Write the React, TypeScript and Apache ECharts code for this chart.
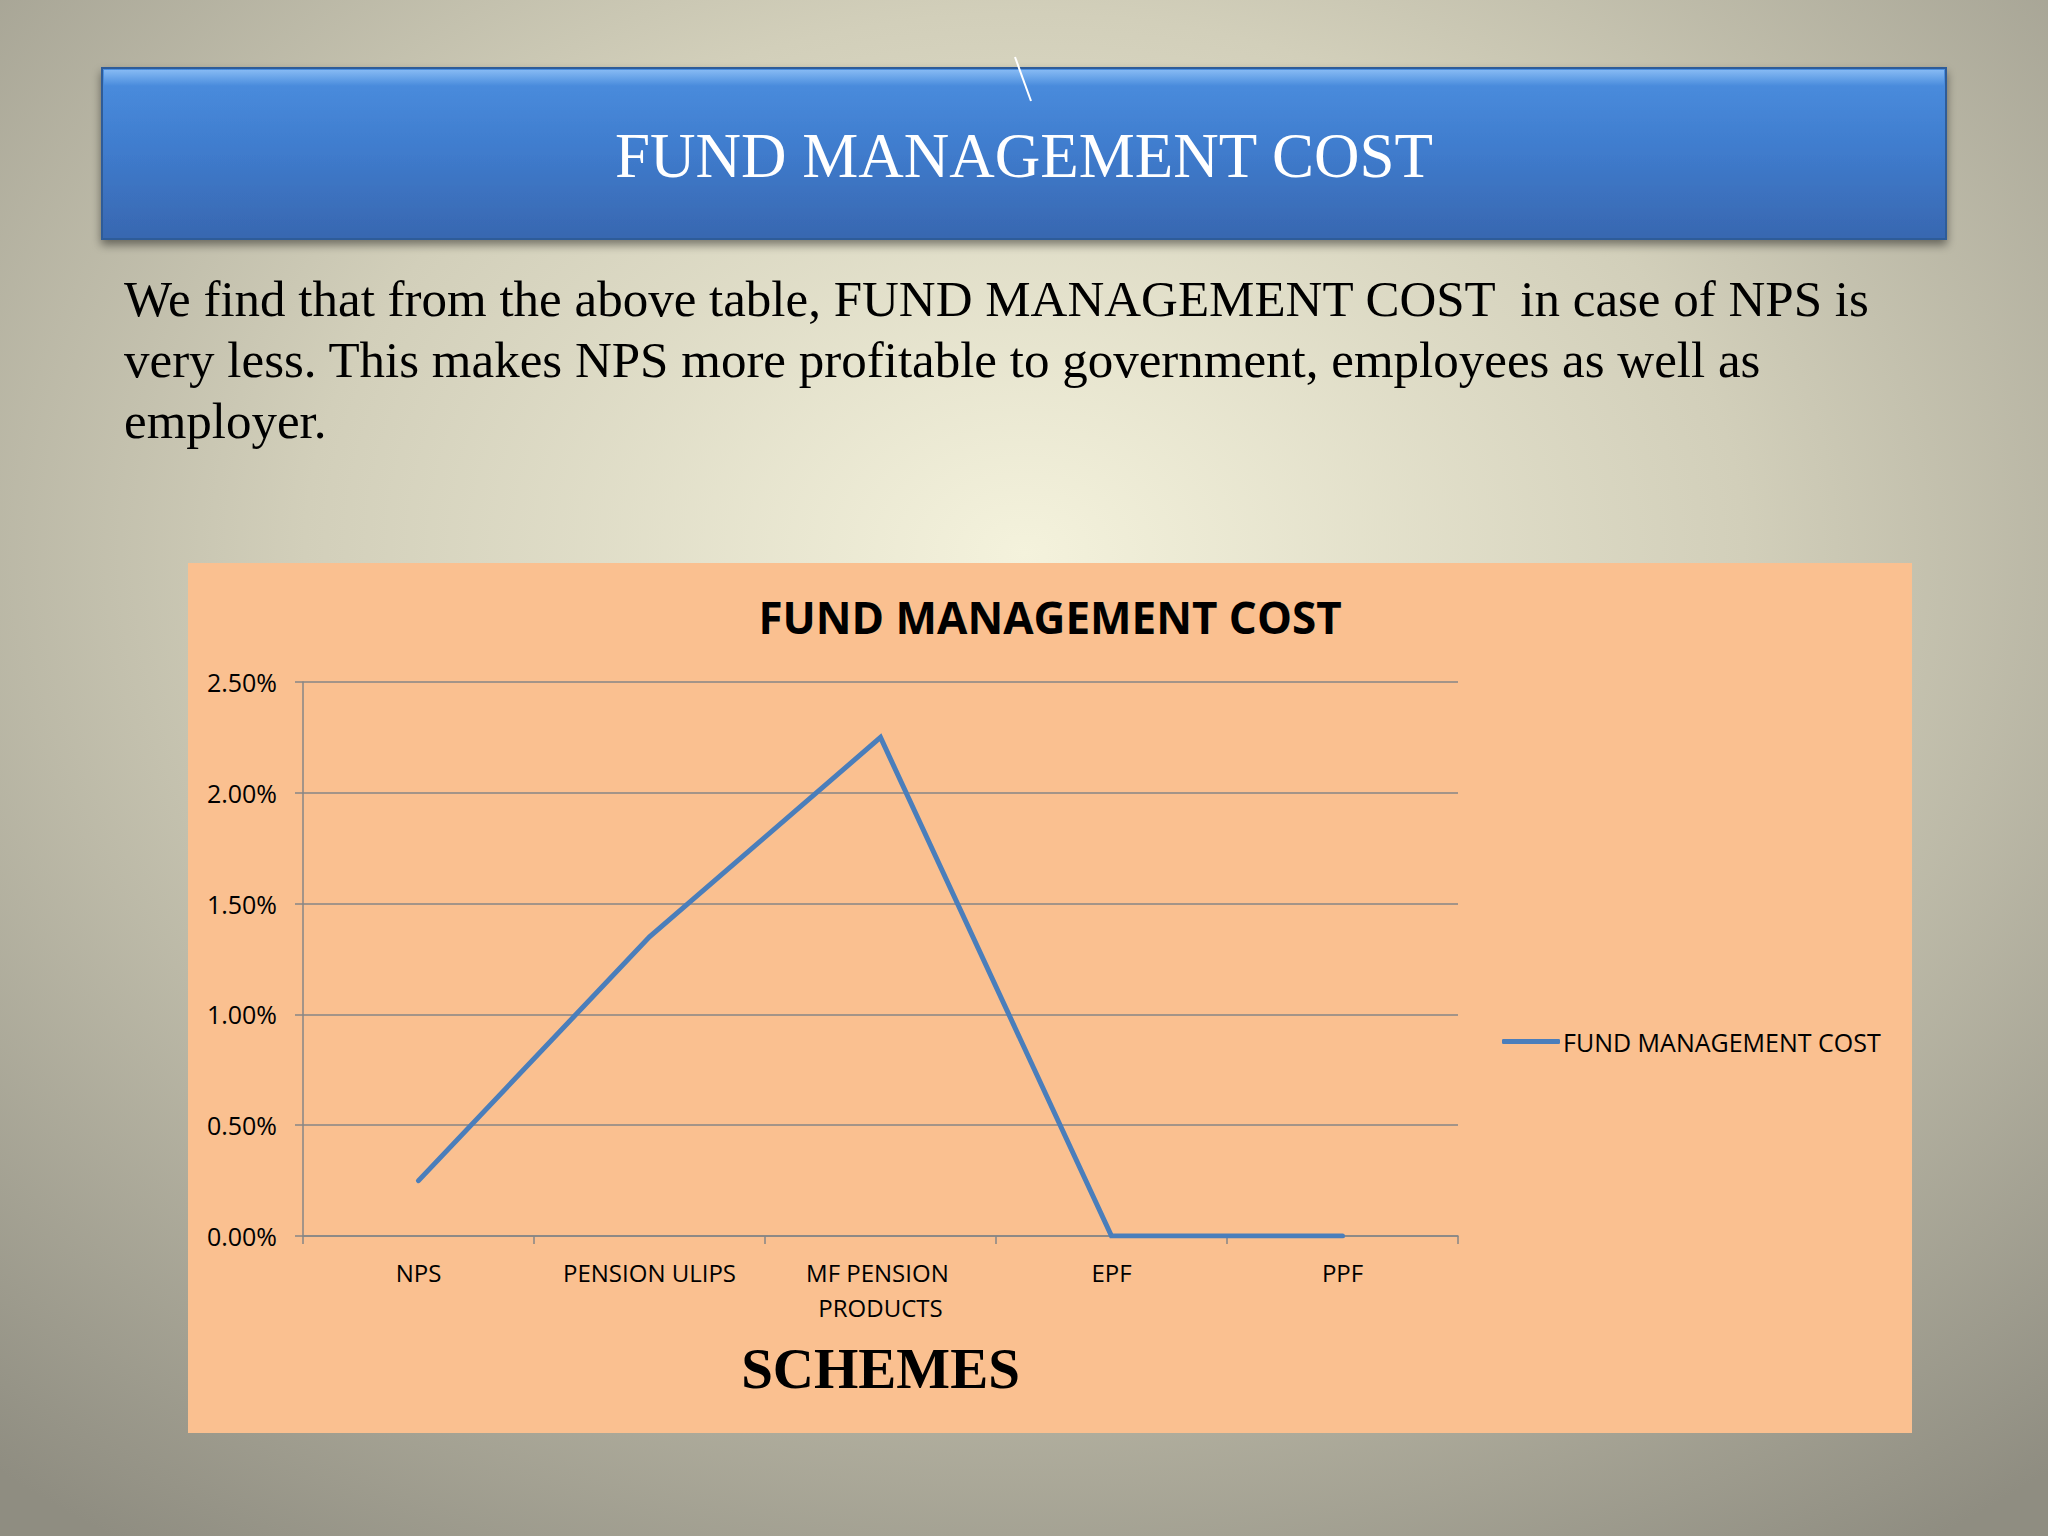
import React, { useEffect, useRef } from "react";
import * as echarts from "echarts";

const slideTitle = "FUND MANAGEMENT COST";
const bodyLines = [
  "We find that from the above table, FUND MANAGEMENT COST  in case of NPS is",
  "very less. This makes NPS more profitable to government, employees as well as",
  "employer.",
];
const chartTitle = "FUND MANAGEMENT COST";
const seriesName = "FUND MANAGEMENT COST";
const categories = ["NPS", "PENSION ULIPS", "MF PENSION PRODUCTS", "EPF", "PPF"];
const costPercent = [0.25, 1.35, 2.25, 0, 0];
const xAxisName = "SCHEMES";
const yMin = 0;
const yMax = 2.5;
const yStep = 0.5;

const SANS = "'Open Sans', 'Noto Sans', sans-serif";
const SERIF = "'Liberation Serif', 'DejaVu Serif', serif";
const GRID_COLOR = "#868686";
const LINE_COLOR = "#4a7ebb";

export default function App() {
  const ref = useRef<HTMLDivElement>(null);

  useEffect(() => {
    if (!ref.current) return;
    const chart = echarts.init(ref.current, undefined, { renderer: "svg" });
    const option: any = {
      animation: false,
      backgroundColor: "transparent",
      graphic: [
        {
          type: "rect",
          z: -20,
          silent: true,
          shape: { x: 0, y: 0, width: 2048, height: 1536 },
          style: {
            fill: new echarts.graphic.RadialGradient(0.5, 0.36, 0.78, [
              { offset: 0, color: "#f4f2dc" },
              { offset: 0.45, color: "#d2cfba" },
              { offset: 1, color: "#8f8d81" },
            ]),
          },
        },
        {
          type: "rect",
          z: -15,
          silent: true,
          shape: { x: 102, y: 68, width: 1844, height: 171 },
          style: {
            fill: new echarts.graphic.LinearGradient(0, 0, 0, 1, [
              { offset: 0, color: "#4b8fe0" },
              { offset: 0.5, color: "#3f7bcc" },
              { offset: 1, color: "#3867b0" },
            ]),
            stroke: "#2f5c99",
            lineWidth: 2,
            shadowBlur: 10,
            shadowOffsetY: 5,
            shadowColor: "rgba(0,0,0,0.45)",
          },
        },
        {
          type: "rect",
          z: -14,
          silent: true,
          shape: { x: 104, y: 70, width: 1840, height: 16 },
          style: {
            fill: new echarts.graphic.LinearGradient(0, 0, 0, 1, [
              { offset: 0, color: "rgba(140,190,245,0.9)" },
              { offset: 1, color: "rgba(140,190,245,0)" },
            ]),
          },
        },
        {
          type: "line",
          z: -13,
          silent: true,
          shape: { x1: 1015, y1: 57, x2: 1031, y2: 101 },
          style: { stroke: "#ffffff", lineWidth: 2 },
        },
        {
          type: "text",
          z: -12,
          x: 1024,
          y: 156,
          style: {
            text: slideTitle,
            fill: "#ffffff",
            font: `63px ${SERIF}`,
            textAlign: "center",
            textVerticalAlign: "middle",
          },
        },
        {
          type: "text",
          z: -12,
          x: 124,
          y: 268,
          style: {
            text: bodyLines.join("\n"),
            fill: "#000000",
            font: `51px ${SERIF}`,
            lineHeight: 61,
            textAlign: "left",
            textVerticalAlign: "top",
          },
        },
        {
          type: "rect",
          z: -10,
          silent: true,
          shape: { x: 188, y: 563, width: 1724, height: 870 },
          style: { fill: "#fac090" },
        },
        {
          type: "text",
          z: 5,
          x: 1050,
          y: 617,
          style: {
            text: chartTitle,
            fill: "#000000",
            font: `bold 44px ${SANS}`,
            textAlign: "center",
            textVerticalAlign: "middle",
          },
        },
      ],
      legend: {
        left: 1502,
        top: 1029,
        padding: 0,
        itemWidth: 58,
        itemHeight: 5,
        itemGap: 5,
        data: [{ name: seriesName, icon: "roundRect" }],
        itemStyle: { color: LINE_COLOR },
        textStyle: { fontFamily: SANS, fontSize: 25, color: "#000000", padding: [0, 0, 0, -2] },
      },
      grid: { left: 303, top: 682, right: 2048 - 1458, bottom: 1536 - 1236, containLabel: false },
      xAxis: {
        type: "category",
        data: categories,
        boundaryGap: true,
        axisLine: { show: true, lineStyle: { color: GRID_COLOR, width: 1.5 } },
        axisTick: { show: true, length: 8, lineStyle: { color: GRID_COLOR, width: 1.5 } },
        axisLabel: {
          interval: 0,
          margin: 19,
          fontFamily: SANS,
          fontSize: 24,
          color: "#000000",
          width: 215,
          overflow: "break",
          lineHeight: 35,
        },
        name: xAxisName,
        nameLocation: "middle",
        nameGap: 104,
        nameTextStyle: { fontFamily: SERIF, fontWeight: "bold", fontSize: 57, color: "#000000" },
      },
      yAxis: {
        type: "value",
        min: yMin,
        max: yMax,
        interval: yStep,
        axisLine: { show: true, lineStyle: { color: GRID_COLOR, width: 1.5 } },
        axisTick: { show: true, length: 8, lineStyle: { color: GRID_COLOR, width: 1.5 } },
        splitLine: { show: true, lineStyle: { color: GRID_COLOR, width: 1.5 } },
        axisLabel: {
          margin: 26,
          fontFamily: SANS,
          fontSize: 25,
          color: "#000000",
          formatter: (v: number) => v.toFixed(2) + "%",
        },
      },
      series: [
        {
          name: seriesName,
          type: "line",
          data: costPercent,
          symbol: "none",
          showSymbol: false,
          lineStyle: { color: LINE_COLOR, width: 5, cap: "round", join: "miter" },
          itemStyle: { color: LINE_COLOR },
          z: 3,
        },
      ],
    };
    chart.setOption(option);
    return () => chart.dispose();
  }, []);

  return (
    <div
      ref={ref}
      style={{ position: "absolute", left: 0, top: 0, width: 2048, height: 1536 }}
    />
  );
}
